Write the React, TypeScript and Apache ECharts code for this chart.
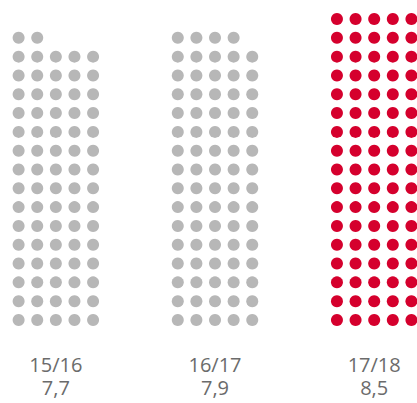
import React, { useEffect, useRef } from "react";
import * as echarts from "echarts";

const categories = ["15/16", "16/17", "17/18"];
const valueLabels = ["7,7", "7,9", "8,5"];
const values = [7.7, 7.9, 8.5];
const dotsPerUnit = 10;
const dotsPerRow = 5;
const colors = ["#b7b7b7", "#b7b7b7", "#d5002d"];

const groupGap = 8.55;

export default function App() {
  const ref = useRef<HTMLDivElement>(null);
  useEffect(() => {
    document.body.style.margin = "0";
    const chart = echarts.init(ref.current!, null, { renderer: "svg" });
    const series = values.map((v, gi) => {
      const n = Math.round(v * dotsPerUnit);
      const data: number[][] = [];
      for (let k = 0; k < n; k++) {
        const row = Math.floor(k / dotsPerRow);
        const col = k % dotsPerRow;
        data.push([gi * groupGap + col, row]);
      }
      return {
        type: "scatter",
        data,
        symbol: "circle",
        symbolSize: 12,
        clip: false,
        itemStyle: { color: colors[gi], opacity: 1 },
        silent: true,
      };
    });
    const centers = categories.map((_, i) => i * groupGap + (dotsPerRow - 1) / 2);
    const makeAxis = (labels: string[], margin: number) => ({
      type: "value",
      min: -1,
      max: 21.4,
      position: "bottom",
      splitLine: { show: false },
      axisLine: { show: false },
      axisTick: { show: false },
      axisLabel: {
        customValues: centers,
        showMinLabel: true,
        showMaxLabel: true,
        formatter: (val: number) => {
          const i = centers.findIndex((c) => Math.abs(c - val) < 0.01);
          return i >= 0 ? labels[i] : "";
        },
        margin,
        fontSize: 20,
        color: "#6b6b6b",
        fontFamily: "Open Sans",
      },
    });
    chart.setOption({
      animation: false,
      grid: { left: 0, right: 0, top: 9.6, bottom: 73.6 },
      xAxis: [makeAxis(categories, 25), makeAxis(valueLabels, 48)],
      yAxis: {
        type: "value",
        min: -0.5,
        max: 16.5,
        show: false,
        splitLine: { show: false },
      },
      series,
    });
    return () => chart.dispose();
  }, []);
  return (
    <div
      ref={ref}
      style={{ position: "fixed", left: 0, top: 0, width: 417, height: 403, background: "#fff" }}
    />
  );
}
